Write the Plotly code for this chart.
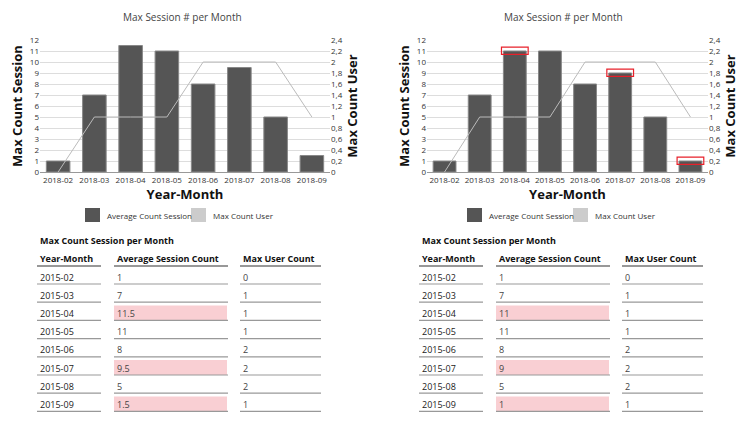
import plotly.graph_objects as go
from plotly.subplots import make_subplots

months = ["2018-02", "2018-03", "2018-04", "2018-05", "2018-06", "2018-07", "2018-08", "2018-09"]
table_months = ["2015-02", "2015-03", "2015-04", "2015-05", "2015-06", "2015-07", "2015-08", "2015-09"]
sessions_left = [1, 7, 11.5, 11, 8, 9.5, 5, 1.5]
sessions_right = [1, 7, 11, 11, 8, 9, 5, 1]
max_users = [0, 1, 1, 1, 2, 2, 2, 1]
highlight_rows = [2, 5, 7]

W, H = 750, 427
FONT = "Open Sans"
BAR = "#555555"
LINE = "#bbbbbb"
PAGE_OFF = 8  # default body margin of the html page


def px(x):
    return (x - PAGE_OFF) / W


def py(y):
    return 1 - (y - PAGE_OFF) / H


fig = make_subplots(rows=1, cols=2, specs=[[{"secondary_y": True}, {"secondary_y": True}]])

for col, sess in [(1, sessions_left), (2, sessions_right)]:
    fig.add_trace(go.Bar(x=months, y=sess, marker=dict(color=BAR, line=dict(color="#888", width=1)),
                         showlegend=False), row=1, col=col, secondary_y=False)
    fig.add_trace(go.Scatter(x=months, y=max_users, mode="lines", line=dict(color=LINE, width=1),
                             showlegend=False), row=1, col=col, secondary_y=True)

ax_font = dict(family=FONT, size=8, color="#333")
title_font = dict(family=FONT, size=13, color="#111")
doms = [(px(40), px(330)), (px(427), px(708))]
for d, (xa, ya, ya2) in zip(doms, [("", "", "2"), ("2", "3", "4")]):
    fig.layout["xaxis" + xa].update(domain=list(d), type="category", tickfont=ax_font, showline=True,
                                    linecolor="#999", automargin=False,
                                    title=dict(text="<b>Year-Month</b>", font=title_font, standoff=6))
    fig.layout["yaxis" + ya].update(domain=[py(172), py(40)], range=[0, 12], dtick=1, tickfont=ax_font,
                                    gridcolor="#ddd", zeroline=False, automargin=False,
                                    title=dict(text="<b>Max Count Session</b>", font=title_font, standoff=4))
    fig.layout["yaxis" + ya2].update(range=[0, 2.4], dtick=0.2, tickfont=ax_font, showgrid=False,
                                     automargin=False,
                                     title=dict(text="<b>Max Count User</b>", font=title_font, standoff=2))

fig.update_layout(bargap=0.35)

ann = []
shapes = []


def label(text, x, y, size, color, xanchor="left"):
    ann.append(dict(text=text, x=px(x), y=py(y), xref="paper", yref="paper", xanchor=xanchor,
                    yanchor="middle", showarrow=False, font=dict(family=FONT, size=size, color=color)))


for off, cx in [(0, 182), (382, 563)]:
    label("Max Session # per Month", cx, 17, 10, "#444", "center")
    shapes.append(dict(type="rect", xref="paper", yref="paper", x0=px(85 + off), x1=px(100 + off),
                       y0=py(222), y1=py(208), fillcolor=BAR, line=dict(width=0)))
    shapes.append(dict(type="rect", xref="paper", yref="paper", x0=px(191 + off), x1=px(206 + off),
                       y0=py(222), y1=py(208), fillcolor="#ccc", line=dict(width=0)))
    label("Average Count Session", 105 + off, 215, 8, "#333")
    label("Max Count User", 211 + off, 215, 8, "#333")

cols = [(37, 101), (114, 228), (240, 321)]
headers = ["Year-Month", "Average Session Count", "Max User Count"]
for off, sess in [(0, sessions_left), (382, sessions_right)]:
    label("<b>Max Count Session per Month</b>", 38 + off, 240, 9, "#111")
    for (a, b), h in zip(cols, headers):
        label("<b>" + h + "</b>", a + 1 + off, 258, 9, "#111")
        shapes.append(dict(type="line", xref="paper", yref="paper", x0=px(a + off), x1=px(b + off),
                           y0=py(266), y1=py(266), line=dict(color="#333", width=1.2)))
    for r in range(len(table_months)):
        ty = 277 + 18.2 * r
        ly = ty + 7
        if r in highlight_rows:
            shapes.append(dict(type="rect", xref="paper", yref="paper", x0=px(114 + off), x1=px(227 + off),
                               y0=py(ly), y1=py(ty - 8), fillcolor="#f9cfd3", line=dict(width=0),
                               layer="below"))
        vals = [table_months[r], str(sess[r]), str(max_users[r])]
        for (a, b), v in zip(cols, vals):
            label(v, a + 1 + off, ty, 9, "#444" if a > 40 else "#222")
            shapes.append(dict(type="line", xref="paper", yref="paper", x0=px(a + off), x1=px(b + off),
                               y0=py(ly), y1=py(ly), line=dict(color="#999", width=1.2)))

# red markers around changed bar tops on the right chart
for i in highlight_rows:
    shapes.append(dict(type="rect", xref="x2", yref="y3", x0=i - 0.38, x1=i + 0.38,
                       y0=sessions_right[i] - 0.3, y1=sessions_right[i] + 0.35,
                       line=dict(color="#e8202a", width=1.2), fillcolor="rgba(0,0,0,0)"))

fig.update_layout(width=W, height=H, margin=dict(l=0, r=0, t=0, b=0), separators=",.",
                  plot_bgcolor="white", paper_bgcolor="white", annotations=ann, shapes=shapes,
                  font=dict(family=FONT))
fig.write_html("out.html")
